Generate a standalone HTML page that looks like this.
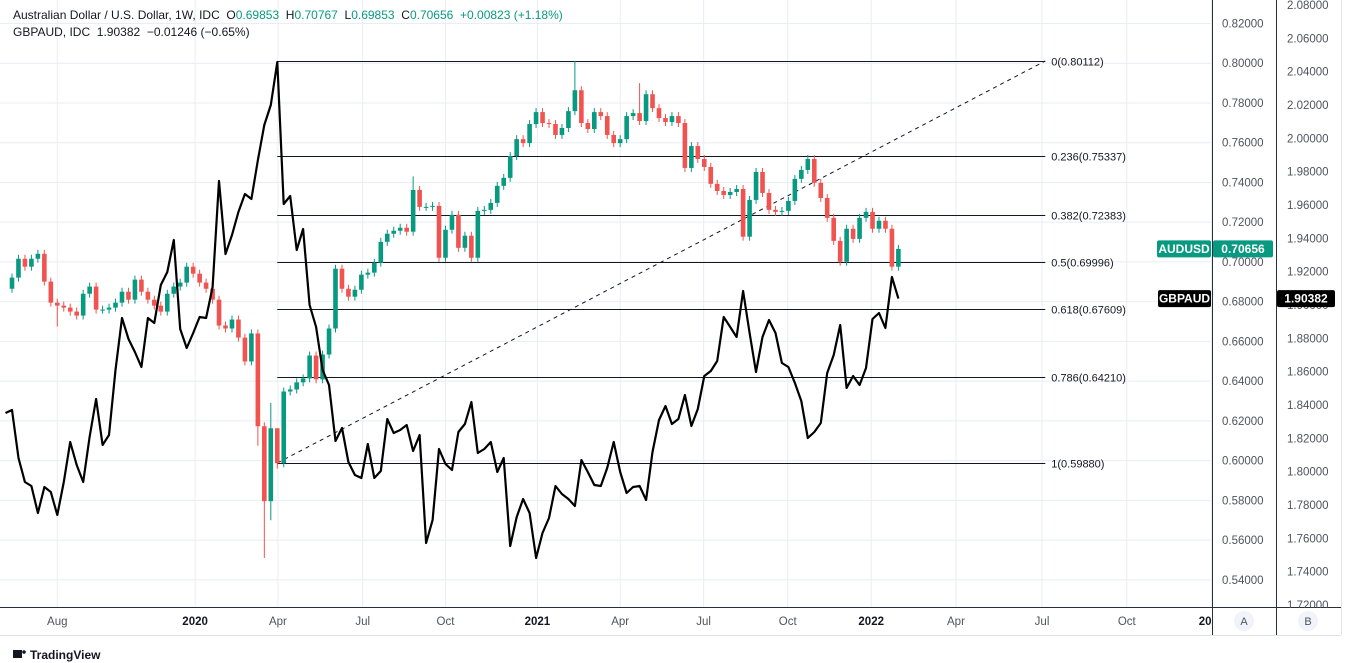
<!DOCTYPE html>
<html><head><meta charset="utf-8"><style>
body{margin:0;background:#fff;font-family:"Liberation Sans",sans-serif;}
svg{display:block}
text{white-space:pre}
</style></head><body>
<svg id="c" width="1347" height="663" xmlns="http://www.w3.org/2000/svg" xml:space="preserve">
<defs><clipPath id="pc"><rect x="0" y="0" width="1212" height="607"/></clipPath></defs>
<g id="grid"></g>
<g id="plot" clip-path="url(#pc)"></g>
<g id="axes"></g>
<text x="13" y="19" font-size="12" fill="#131722">Australian Dollar / U.S. Dollar, 1W, IDC  O<tspan fill="#089981">0.69853</tspan>  H<tspan fill="#089981">0.70767</tspan>  L<tspan fill="#089981">0.69853</tspan>  C<tspan fill="#089981">0.70656</tspan>  <tspan fill="#089981">+0.00823 (+1.18%)</tspan></text>
<text x="13" y="36" font-size="12" fill="#131722">GBPAUD, IDC  1.90382  −0.01246 (−0.65%)</text>
<g><rect x="13" y="650" width="9" height="8" fill="#131722"/><circle cx="24" cy="652" r="1.8" fill="#131722"/><text x="30" y="659" font-size="12" fill="#131722" font-weight="bold">TradingView</text></g>
</svg>
<script>
const closes=[0.6921,0.7016,0.6976,0.7016,0.7041,0.6901,0.6795,0.6780,0.6770,0.6750,0.6730,0.6840,0.6876,0.6760,0.6760,0.6770,0.6795,0.6850,0.6810,0.6911,0.6850,0.6810,0.6780,0.6750,0.6840,0.6876,0.6896,0.6976,0.6941,0.6896,0.6865,0.6810,0.6680,0.6665,0.6710,0.6619,0.6499,0.6640,0.6173,0.5796,0.6163,0.5987,0.6348,0.6358,0.6394,0.6414,0.6529,0.6409,0.6534,0.6665,0.6966,0.6865,0.6825,0.6860,0.6936,0.6946,0.6996,0.7101,0.7142,0.7157,0.7172,0.7152,0.7362,0.7277,0.7277,0.7282,0.7021,0.7162,0.7237,0.7071,0.7132,0.7021,0.7257,0.7262,0.7297,0.7383,0.7423,0.7533,0.7618,0.7598,0.7694,0.7754,0.7699,0.7694,0.7639,0.7674,0.7759,0.7864,0.7699,0.7669,0.7754,0.7734,0.7639,0.7598,0.7618,0.7734,0.7749,0.7709,0.7844,0.7774,0.7724,0.7704,0.7734,0.7699,0.7473,0.7583,0.7518,0.7478,0.7393,0.7357,0.7337,0.7352,0.7367,0.7127,0.7312,0.7453,0.7347,0.7262,0.7252,0.7257,0.7307,0.7418,0.7463,0.7518,0.7398,0.7322,0.7222,0.7106,0.7001,0.7167,0.7116,0.7222,0.7252,0.7167,0.7207,0.7167,0.6976,0.70656];
const firstOpen=0.6865;
const wickLows={7:0.6675,38:0.6075,39:0.5510,40:0.5700,41:0.5960};
const wickHighs={40:0.6290,41:0.6090,87:0.8011,62:0.7430,97:0.7900};
const gbpaud=[1.8352,1.8370,1.8082,1.7938,1.7914,1.7752,1.7908,1.7878,1.7740,1.7938,1.8178,1.8040,1.7938,1.8208,1.8436,1.8160,1.8220,1.8610,1.8922,1.8796,1.8718,1.8628,1.8922,1.8892,1.9120,1.9198,1.9390,1.8856,1.8742,1.8832,1.8928,1.8922,1.9108,1.9744,1.9306,1.9420,1.9558,1.9666,1.9636,1.9870,2.0080,2.0200,2.0458,1.9606,1.9654,1.9330,1.9456,1.9000,1.8868,1.8610,1.8520,1.8184,1.8262,1.8058,1.7980,1.7962,1.8166,1.7962,1.8004,1.8316,1.8232,1.8250,1.8280,1.8124,1.8220,1.7572,1.7710,1.8136,1.8046,1.8010,1.8238,1.8286,1.8418,1.8112,1.8136,1.8178,1.7998,1.8082,1.7554,1.7728,1.7836,1.7752,1.7482,1.7632,1.7722,1.7914,1.7866,1.7836,1.7794,1.8070,1.7998,1.7920,1.7914,1.8022,1.8178,1.7998,1.7872,1.7908,1.7914,1.7830,1.8118,1.8310,1.8394,1.8286,1.8316,1.8460,1.8274,1.8376,1.8574,1.8604,1.8664,1.8928,1.8868,1.8808,1.9084,1.8832,1.8598,1.8808,1.8910,1.8832,1.8652,1.8628,1.8532,1.8424,1.8202,1.8238,1.8292,1.8592,1.8700,1.8880,1.8502,1.8574,1.8520,1.8622,1.8916,1.8952,1.8862,1.9168,1.90382];
const gbpStart=-1;
const timeLabels=["Aug","2020","Apr","Jul","Oct","2021","Apr","Jul","Oct","2022","Apr","Jul","Oct","2023"];
const timeIdx=[7,28.3,41.1,54.2,67,81.2,94,106.9,119.9,132.8,145.9,159.2,172.3,185.4];
const audTicks=[0.82,0.80,0.78,0.76,0.74,0.72,0.70,0.68,0.66,0.64,0.62,0.60,0.58,0.56,0.54];
const gbpTicks=[2.08,2.06,2.04,2.02,2.00,1.98,1.96,1.94,1.92,1.90,1.88,1.86,1.84,1.82,1.80,1.78,1.76,1.74,1.72];
const fibRatios=[0,0.236,0.382,0.5,0.618,0.786,1];
const fibHigh=0.80112, fibLow=0.59880, fibStartIdx=41, fibEndIdx=159.7;

const NS="http://www.w3.org/2000/svg";
const xI=i=>12+6.47*i;
const yA=v=>61+(0.80112-v)*1987;
const yB=v=>5+(2.08-v)*1666.7;
function mk(tag,at,parent){const e=document.createElementNS(NS,tag);for(const k in at)e.setAttribute(k,at[k]);parent.appendChild(e);return e;}
const grid=document.getElementById('grid'),plot=document.getElementById('plot'),axes=document.getElementById('axes');
audTicks.forEach(v=>{const l=mk('line',{x1:0,x2:1212,y1:yA(v),y2:yA(v),stroke:'#e8eef4','stroke-width':1},grid);

});
timeIdx.forEach(i=>{const l=mk('line',{x1:xI(i),x2:xI(i),y1:0,y2:607,stroke:'#e8eef4','stroke-width':1},grid);

});
const fx1=xI(fibStartIdx),fx2=xI(fibEndIdx);
fibRatios.forEach(r=>{const v=fibHigh-(fibHigh-fibLow)*r;const y=Math.round(yA(v))+0.5;
const l=mk('line',{x1:fx1,x2:fx2,y1:y,y2:y,stroke:'#131722','stroke-width':1},plot);


const t=mk('text',{x:fx2+6,y:y+4,'font-size':11,fill:'#131722'},plot);t.textContent=r+'('+v.toFixed(5)+')';

});
const tl=mk('line',{x1:fx1,y1:yA(fibLow),x2:fx2,y2:yA(fibHigh),stroke:'#131722','stroke-width':1,'stroke-dasharray':'4 4'},plot);


closes.forEach((c,i)=>{const o=i===0?firstOpen:closes[i-1];const up=c>=o;const col=up?'#089981':'#f05350';
const hi=wickHighs[i]!==undefined?wickHighs[i]:Math.max(o,c)+0.002;const lo=wickLows[i]!==undefined?wickLows[i]:Math.min(o,c)-0.002;
const x=xI(i);const g=mk('g',{},plot);


mk('line',{x1:x,x2:x,y1:yA(hi),y2:yA(lo),stroke:col,'stroke-width':1},g);
const yt=yA(Math.max(o,c)),yb=yA(Math.min(o,c));
mk('rect',{x:x-2.3,y:yt,width:4.6,height:Math.max(1,yb-yt),fill:col},g);});
const pts=gbpaud.map((v,k)=>xI(k+gbpStart).toFixed(1)+','+yB(v).toFixed(1)).join(' ');
const pl=mk('polyline',{points:pts,fill:'none',stroke:'#000','stroke-width':2.2,'stroke-linejoin':'round'},plot);


mk('rect',{x:1212,y:0,width:135,height:663,fill:'#fff'},axes);
mk('rect',{x:0,y:608,width:1347,height:55,fill:'#fff'},axes);
mk('line',{x1:1212.5,x2:1212.5,y1:0,y2:635,stroke:'#2a2e39'},axes);
mk('line',{x1:1276.5,x2:1276.5,y1:0,y2:635,stroke:'#2a2e39'},axes);
mk('line',{x1:0,x2:1341,y1:607.5,y2:607.5,stroke:'#2a2e39'},axes);
mk('line',{x1:1341.5,x2:1341.5,y1:0,y2:635,stroke:'#e0e3eb'},axes);
mk('line',{x1:0,x2:1341,y1:635.5,y2:635.5,stroke:'#e0e3eb'},axes);
audTicks.forEach(v=>{const t=mk('text',{x:1222,y:yA(v)+4,'font-size':11.5,fill:'#50535e'},axes);t.textContent=v.toFixed(5);

});
gbpTicks.forEach(v=>{const t=mk('text',{x:1287,y:yB(v)+4,'font-size':11.5,fill:'#50535e'},axes);t.textContent=v.toFixed(5);

});
timeLabels.forEach((s,k)=>{const bold=/^\d/.test(s);const t=mk('text',{x:xI(timeIdx[k]),y:625,'font-size':11.5,fill:bold?'#131722':'#50535e','font-weight':bold?'bold':'normal','text-anchor':'middle'},axes);t.textContent=s;

});
mk('rect',{x:1213,y:608,width:63,height:27,fill:'#fff'},axes);
mk('rect',{x:1277,y:608,width:64,height:27,fill:'#fff'},axes);
mk('line',{x1:1212.5,x2:1212.5,y1:607,y2:635,stroke:'#2a2e39'},axes);
mk('line',{x1:1276.5,x2:1276.5,y1:607,y2:635,stroke:'#2a2e39'},axes);
[['A',1244],['B',1308]].forEach(([s,x])=>{const g=mk('g',{},axes);


mk('circle',{cx:x,cy:621,r:10,fill:'#f0f3fa'},g);const t=mk('text',{x:x,y:625,'font-size':11,fill:'#50535e','text-anchor':'middle'},g);t.textContent=s;});
const lastA=closes[closes.length-1],lastB=gbpaud[gbpaud.length-1];
const lastAudLabel="0.70656";
function tag(x,y,w,txt,bg,name){const g=mk('g',{},axes);


mk('rect',{x:x,y:y-8.5,width:w,height:17,fill:bg,rx:2},g);const t=mk('text',{x:x+w/2,y:y+4,'font-size':12,fill:'#fff','font-weight':'bold','text-anchor':'middle'},g);t.textContent=txt;}
tag(1157,yA(lastA),54,'AUDUSD','#089981','audusd-name-tag');
tag(1213,yA(lastA),60,lastAudLabel,'#089981','audusd-price-tag');
tag(1158,yB(lastB),53,'GBPAUD','#000','gbpaud-name-tag');
tag(1277,yB(lastB),58,lastB.toFixed(5),'#000','gbpaud-price-tag');
</script>
</body></html>
